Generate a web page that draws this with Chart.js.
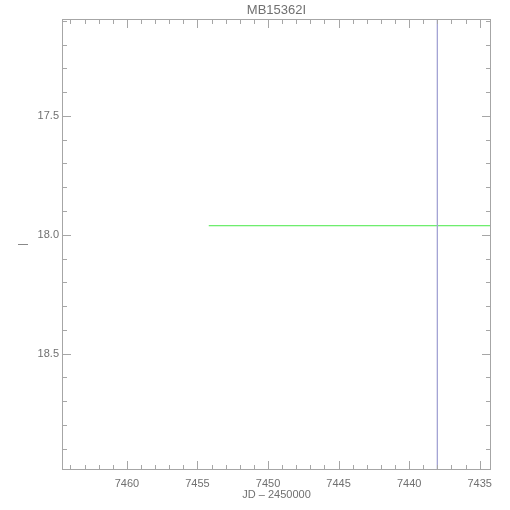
<!DOCTYPE html>
<html>
<head>
<meta charset="utf-8">
<script src="https://cdn.jsdelivr.net/npm/chart.js@4"></script>
<style>
  html, body { margin: 0; padding: 0; background: #fff; }
  #wrap { width: 510px; height: 510px; }
</style>
</head>
<body>
<div id="wrap"><canvas id="myChart" width="510" height="510"></canvas></div>
<script>
const titleText = 'MB15362I';
const xLabel = 'JD \u2013 2450000';

// axis ranges (both reversed, as in the plot)
const xRange = [7434.2, 7464.6];
const yRange = [17.092, 18.99];
const xTicks = [7435, 7440, 7445, 7450, 7455, 7460];
const yTicks = [17.5, 18.0, 18.5];

// green model line
const lineJD = [7454.2, 7434.2];
const lineMag = [17.962, 17.962];

// vertical marker
const markJD = [7438.0, 7438.0];
const markMag = [17.092, 18.99];

const axisGrey = '#a6a6a6';
const textGrey = '#707070';

const toPts = (xs, ys) => xs.map((x, i) => ({x: x, y: ys[i]}));

// IDL-style inward ticks on all four sides, plus frame and title
const framePlugin = {
    id: 'frame',
    afterDatasetsDraw(chart) {
        const ctx = chart.ctx;
        const a = chart.chartArea;
        const xs = chart.scales.x, ys = chart.scales.y;
        ctx.save();
        ctx.strokeStyle = axisGrey;
        ctx.lineWidth = 1;
        ctx.strokeRect(a.left + 0.5, a.top + 0.5, a.right - a.left - 1, a.bottom - a.top - 1);
        ctx.beginPath();
        for (let v = 7435; v <= 7464; v++) {
            const px = Math.round(xs.getPixelForValue(v)) + 0.5;
            const len = (v % 5 === 0) ? 9 : 5;
            ctx.moveTo(px, a.bottom); ctx.lineTo(px, a.bottom - len);
            ctx.moveTo(px, a.top); ctx.lineTo(px, a.top + len);
        }
        for (let k = 171; k <= 189; k++) {
            const v = k / 10;
            const py = Math.round(ys.getPixelForValue(v)) + 0.5;
            const len = (k % 5 === 0) ? 9 : 5;
            ctx.moveTo(a.left, py); ctx.lineTo(a.left + len, py);
            ctx.moveTo(a.right, py); ctx.lineTo(a.right - len, py);
        }
        ctx.stroke();
        ctx.fillStyle = textGrey;
        ctx.font = '13px "Liberation Sans", Arial, sans-serif';
        ctx.textAlign = 'center';
        ctx.textBaseline = 'middle';
        ctx.fillText(titleText, (a.left + a.right) / 2, 10);
        ctx.restore();
    }
};

const config = {
    type: 'scatter',
    data: {
        datasets: [
            {
                data: toPts(markJD, markMag),
                showLine: true,
                borderColor: '#a4a4d4',
                borderWidth: 1,
                pointRadius: 0
            },
            {
                data: toPts(lineJD, lineMag),
                showLine: true,
                borderColor: 'rgb(70, 232, 70)',
                borderWidth: 1,
                pointRadius: 0
            }
        ]
    },
    options: {
        responsive: false,
        animation: false,
        layout: { padding: { top: 19, right: 19, left: 0, bottom: 0 } },
        plugins: {
            legend: { display: false },
            tooltip: { enabled: false },
            title: { display: false }
        },
        scales: {
            x: {
                type: 'linear',
                reverse: true,
                min: xRange[0],
                max: xRange[1],
                grid: { display: false, drawTicks: false },
                border: { display: false },
                afterBuildTicks: s => { s.ticks = xTicks.map(v => ({value: v})); },
                afterFit: s => { s.height = 40; },
                ticks: {
                    color: textGrey,
                    font: { family: '"Liberation Sans", Arial, sans-serif', size: 11 },
                    padding: 7,
                    maxRotation: 0,
                    autoSkip: false,
                    callback: v => String(v)
                },
                title: {
                    display: true,
                    text: xLabel,
                    color: textGrey,
                    font: { family: '"Liberation Sans", Arial, sans-serif', size: 11 },
                    padding: { top: 0, bottom: 8 }
                }
            },
            y: {
                type: 'linear',
                reverse: true,
                min: yRange[0],
                max: yRange[1],
                grid: { display: false, drawTicks: false },
                border: { display: false },
                afterBuildTicks: s => { s.ticks = yTicks.map(v => ({value: v})); },
                afterFit: s => { s.width = 62; },
                ticks: {
                    color: textGrey,
                    font: { family: '"Liberation Sans", Arial, sans-serif', size: 11 },
                    padding: 3,
                    autoSkip: false,
                    callback: v => Number(v).toFixed(1)
                },
                title: {
                    display: true,
                    text: '|',
                    color: textGrey,
                    font: { family: '"Liberation Sans", Arial, sans-serif', size: 10 },
                    padding: { top: 17, bottom: 0 }
                }
            }
        }
    },
    plugins: [framePlugin]
};

const myChart = new Chart(document.getElementById('myChart'), config);
</script>
</body>
</html>
